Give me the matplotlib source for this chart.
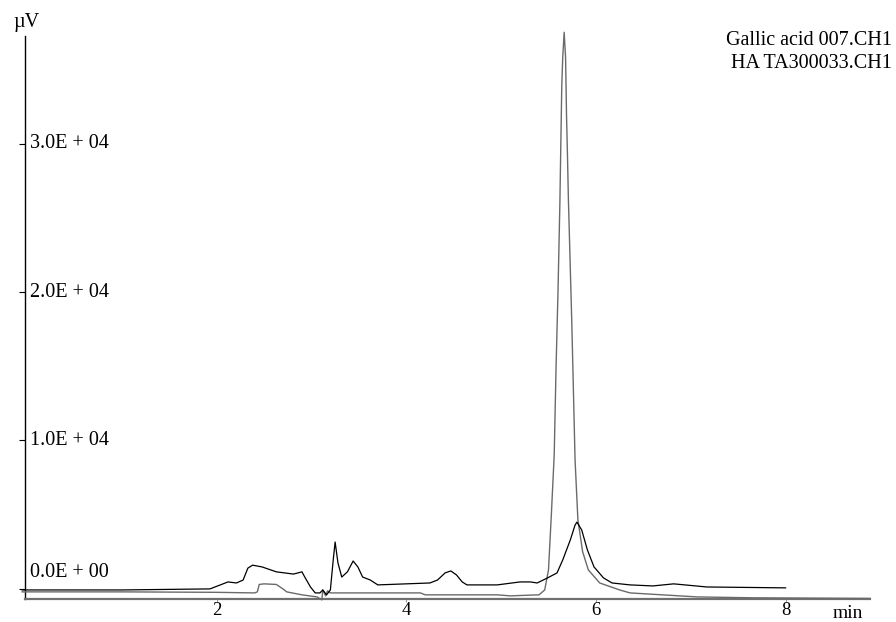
import matplotlib
matplotlib.use("Agg")
import matplotlib.pyplot as plt
import matplotlib.transforms as mtransforms

plt.rcParams['font.family'] = ['Liberation Serif', 'DejaVu Serif']

# retention time (min) / signal (uV)
gallic_t = [-0.05, 1.0, 2.0, 2.40, 2.43, 2.45, 2.50, 2.63, 2.70, 2.74, 2.90, 3.06, 3.11, 3.12,
            3.15, 3.17, 3.20, 4.15, 4.20, 4.96, 5.10, 5.30, 5.40, 5.46, 5.50, 5.53, 5.56, 5.58,
            5.60, 5.62, 5.63, 5.64, 5.65, 5.665, 5.68, 5.69, 5.70, 5.71, 5.745, 5.78, 5.81,
            5.86, 5.92, 6.04, 6.25, 6.36, 6.70, 7.07, 7.66, 8.89]
gallic_v = [-200, -200, -230, -270, -200, 300, 340, 300, 0, -200, -400, -540, -740, -70,
            -470, -130, -270, -270, -400, -400, -470, -420, -400, -70, 1280, 5000, 9000, 15000,
            20000, 26000, 30000, 33900, 35800, 37500, 35800, 31900, 29200, 26200, 18100, 8700, 4650,
            2500, 1280, 400, -70, -270, -400, -540, -600, -640]

ha_t = [-0.05, 1.0, 1.93, 2.04, 2.12, 2.21, 2.28, 2.33, 2.38, 2.48, 2.63, 2.81, 2.86, 2.90,
        2.93, 2.99, 3.04, 3.09, 3.12, 3.16, 3.20, 3.23, 3.25, 3.28, 3.32, 3.38, 3.44, 3.49,
        3.54, 3.62, 3.70, 4.25, 4.33, 4.41, 4.47, 4.53, 4.59, 4.64, 4.96, 5.20, 5.31, 5.38,
        5.49, 5.59, 5.65, 5.73, 5.78, 5.80, 5.85, 5.91, 5.98, 6.08, 6.17, 6.36, 6.60, 6.82,
        7.17, 8.0]
ha_v = [-70, -70, 0, 270, 470, 400, 600, 1400, 1600, 1480, 1150, 1000, 1080, 1150,
        800, 130, -270, -270, -70, -400, -70, 1950, 3160, 1750, 800, 1150, 1880, 1480,
        800, 600, 270, 400, 600, 1080, 1210, 940, 470, 270, 270, 470, 470, 400,
        740, 1080, 1950, 3300, 4300, 4500, 3970, 2630, 1480, 740, 400, 270, 200, 340,
        130, 70]

y_ticks = [0, 10000, 20000, 30000]
y_labels = ['0.0E + 00', '1.0E + 04', '2.0E + 04', '3.0E + 04']
x_ticks = [2, 4, 6, 8]
legend_names = ['Gallic acid 007.CH1', 'HA TA300033.CH1']

W, H = 896, 622
fig = plt.figure(figsize=(W / 100, H / 100), dpi=100)
ax = fig.add_axes([25 / W, 1 - 599 / H, (870 - 25) / W, (599 - 36) / H])

ax.plot(gallic_t, gallic_v, color='#6a6a6a', lw=1.0, clip_on=False, zorder=3)
ax.plot(ha_t, ha_v, color='black', lw=0.9, clip_on=False, zorder=4)

ax.set_xlim(-0.02, 8.89)
ax.set_ylim(-680, 37250)

for s in ['top', 'right']:
    ax.spines[s].set_visible(False)
ax.spines['left'].set_linewidth(1.0)
ax.spines['bottom'].set_color('#707070')
ax.spines['bottom'].set_linewidth(1.6)

ax.set_yticks(y_ticks)
ax.set_yticklabels([])
ax.tick_params(axis='y', direction='out', length=4, width=0.8)
ax.set_xticks(x_ticks)
ax.set_xticklabels([str(v) for v in x_ticks], fontsize=13.5)
ax.tick_params(axis='x', direction='out', length=2, width=0.6, color='#888888', pad=0.5)

# y tick labels sit inside, to the right of the axis
trans = mtransforms.blended_transform_factory(ax.transAxes, ax.transData)
for val, lab in zip(y_ticks, y_labels):
    tr = trans
    if val == 0:
        tr = mtransforms.offset_copy(trans, fig=fig, y=16, units='dots')
    ax.text(5 / (870 - 25), val, lab, transform=tr, ha='left', va='center', fontsize=14.5)

fig.text(13 / W, 1 - 27 / H, 'µV', ha='left', va='baseline', fontsize=14.5)
fig.text(848 / W, 1 - 618 / H, 'min', ha='center', va='baseline', fontsize=14)
fig.text(892 / W, 1 - 45 / H, legend_names[0], ha='right', va='baseline', fontsize=14.5)
fig.text(892 / W, 1 - 68 / H, legend_names[1], ha='right', va='baseline', fontsize=14.5)

fig.savefig('out.png', dpi=100)
